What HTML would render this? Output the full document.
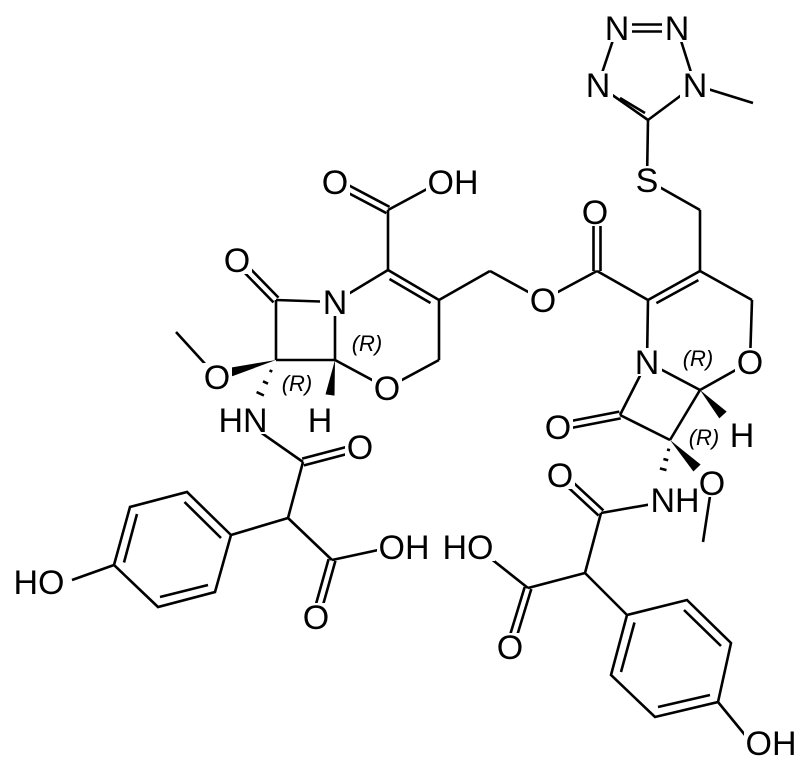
<!DOCTYPE html>
<html><head><style>html,body{margin:0;padding:0;background:#fff}</style></head><body>
<svg width="805" height="768" viewBox="0 0 805 768" xmlns="http://www.w3.org/2000/svg">
<g stroke="#000" stroke-width="2.6" fill="none" stroke-linecap="butt">
<line x1="278.5" y1="297.6" x2="239.5" y2="257.6"/><line x1="273.5" y1="302.4" x2="234.5" y2="262.4"/>
<line x1="276" y1="300" x2="335" y2="302"/>
<line x1="335" y1="302" x2="335" y2="360"/>
<line x1="335" y1="360" x2="276" y2="360"/>
<line x1="276" y1="360" x2="276" y2="300"/>
<line x1="335" y1="302" x2="388" y2="270"/>
<line x1="388" y1="270" x2="439" y2="300"/><line x1="389.5" y1="279" x2="430.5" y2="303"/>
<line x1="439" y1="300" x2="439" y2="360"/>
<line x1="439" y1="360" x2="387" y2="388"/>
<line x1="387" y1="388" x2="335" y2="360"/>
<line x1="388" y1="270" x2="388" y2="210"/>
<line x1="389.6" y1="206.9" x2="336.6" y2="178.9"/><line x1="386.4" y1="213.1" x2="333.4" y2="185.1"/>
<line x1="388" y1="210" x2="440" y2="182"/>
<line x1="439" y1="300" x2="490" y2="271"/>
<line x1="490" y1="271" x2="543" y2="300"/>
<line x1="543" y1="300" x2="597" y2="271"/>
<line x1="593.5" y1="271" x2="593.5" y2="212"/><line x1="600.5" y1="271" x2="600.5" y2="212"/>
<line x1="597" y1="271" x2="648" y2="300"/>
<line x1="648" y1="300" x2="700" y2="271"/><line x1="656.4" y1="303.1" x2="698.4" y2="280.1"/>
<line x1="700" y1="271" x2="700" y2="210"/>
<line x1="700" y1="210" x2="647" y2="180"/>
<line x1="647" y1="180" x2="648" y2="120"/>
<line x1="648" y1="120" x2="598" y2="85"/><line x1="620" y1="98" x2="645" y2="113"/>
<line x1="598" y1="85" x2="617" y2="28"/>
<line x1="630" y1="24.5" x2="664" y2="24.5"/><line x1="630" y1="31.5" x2="664" y2="31.5"/>
<line x1="677" y1="28" x2="695" y2="85"/>
<line x1="695" y1="85" x2="648" y2="120"/>
<line x1="695" y1="85" x2="753" y2="103"/>
<line x1="700" y1="271" x2="752" y2="300"/>
<line x1="752" y1="300" x2="750" y2="362"/>
<line x1="750" y1="362" x2="700" y2="390"/>
<line x1="700" y1="390" x2="647" y2="362"/>
<line x1="647" y1="362" x2="648" y2="300"/>
<line x1="647" y1="362" x2="620" y2="415"/>
<line x1="620.7" y1="418.4" x2="558.7" y2="430.4"/><line x1="619.3" y1="411.6" x2="557.3" y2="423.6"/>
<line x1="620" y1="415" x2="670" y2="440"/>
<line x1="670" y1="440" x2="700" y2="390"/>
<line x1="712" y1="483" x2="703" y2="542"/>
<line x1="675" y1="500" x2="601" y2="513"/>
<line x1="603.4" y1="510.4" x2="562.4" y2="472.4"/><line x1="598.6" y1="515.6" x2="557.6" y2="477.6"/>
<line x1="601" y1="513" x2="585" y2="573"/>
<line x1="585" y1="573" x2="528" y2="588"/>
<line x1="531.3" y1="589" x2="513.3" y2="648"/><line x1="524.7" y1="587" x2="506.7" y2="646"/>
<line x1="528" y1="588" x2="480" y2="550"/>
<line x1="585" y1="573" x2="627" y2="615"/>
<polygon points="627,615 687,600 731,643 718,702 655,717 611,675"/>
<line x1="684" y1="610" x2="721" y2="646"/><line x1="710" y1="695" x2="658" y2="707"/><line x1="621" y1="672" x2="634.5" y2="622.5"/>
<line x1="718" y1="702" x2="745" y2="735"/>
<line x1="217" y1="377" x2="176" y2="332"/>
<line x1="243" y1="420" x2="303" y2="462"/>
<line x1="303.9" y1="465.4" x2="360.9" y2="450.4"/><line x1="302.1" y1="458.6" x2="359.1" y2="443.6"/>
<line x1="303" y1="462" x2="288" y2="518"/>
<line x1="288" y1="518" x2="231" y2="535"/>
<line x1="288" y1="518" x2="332" y2="560"/>
<line x1="332" y1="560" x2="392" y2="547"/>
<line x1="335.4" y1="560.9" x2="319.4" y2="617.9"/><line x1="328.6" y1="559.1" x2="312.6" y2="616.1"/>
<polygon points="231,535 187,492 130,507 114,565 158,607 215,592"/>
<line x1="221" y1="538" x2="184.5" y2="502"/><line x1="137" y1="514" x2="124" y2="562.5"/><line x1="160" y1="597" x2="208" y2="585"/>
<line x1="114" y1="565" x2="72" y2="580"/>
<line x1="269.5" y1="370.4" x2="272.3" y2="371.6"/>
<line x1="263" y1="381.3" x2="268" y2="383.7"/>
<line x1="256.6" y1="392.1" x2="263.9" y2="395.5"/>
<line x1="667" y1="449.5" x2="670" y2="450.3"/>
<line x1="663.4" y1="459" x2="668.2" y2="460.2"/>
<line x1="659.9" y1="468.4" x2="666.5" y2="470.1"/>
</g>
<g fill="#000">
<polygon points="276,360 232.2,376.3 229.8,367.7"/>
<polygon points="335,360 334.5,395.6 325.5,394.4"/>
<polygon points="700,390 726.7,411.6 719.3,418.4"/>
<polygon points="670,440 700.6,464.5 693.4,471.5"/>
</g>
<g fill="#fff">
<rect x="222" y="246" width="30" height="28"/>
<rect x="320" y="288" width="30" height="28"/>
<rect x="202" y="363" width="30" height="28"/>
<rect x="216" y="406" width="54" height="28"/>
<rect x="306" y="406" width="28" height="28"/>
<rect x="372" y="374" width="30" height="28"/>
<rect x="320" y="168" width="30" height="28"/>
<rect x="426" y="168" width="54" height="28"/>
<rect x="345" y="433" width="30" height="28"/>
<rect x="377" y="533" width="54" height="28"/>
<rect x="441" y="533" width="54" height="28"/>
<rect x="301" y="603" width="30" height="28"/>
<rect x="12" y="568" width="54" height="28"/>
<rect x="495" y="633" width="30" height="28"/>
<rect x="545" y="461" width="30" height="28"/>
<rect x="648" y="486" width="54" height="28"/>
<rect x="697" y="469" width="30" height="28"/>
<rect x="744" y="729" width="54" height="28"/>
<rect x="543" y="413" width="30" height="28"/>
<rect x="728" y="421" width="28" height="28"/>
<rect x="632" y="348" width="30" height="28"/>
<rect x="735" y="348" width="30" height="28"/>
<rect x="528" y="286" width="30" height="28"/>
<rect x="580" y="198" width="30" height="28"/>
<rect x="633" y="166" width="28" height="28"/>
<rect x="583" y="71" width="30" height="28"/>
<rect x="680" y="71" width="30" height="28"/>
<rect x="602" y="14" width="30" height="28"/>
<rect x="662" y="14" width="30" height="28"/>
</g>
<g fill="#000" font-family="Liberation Sans, Arial, sans-serif" font-size="34" text-anchor="middle">
<text x="237" y="272">O</text><text x="335" y="314">N</text><text x="217" y="389">O</text><text x="243" y="432">HN</text><text x="320" y="432">H</text><text x="387" y="400">O</text><text x="335" y="194">O</text><text x="453" y="194">OH</text><text x="360" y="459">O</text><text x="404" y="559">OH</text><text x="468" y="559">HO</text><text x="316" y="629">O</text><text x="39" y="594">HO</text><text x="510" y="659">O</text><text x="560" y="487">O</text><text x="675" y="512">NH</text><text x="712" y="495">O</text><text x="771" y="755">OH</text><text x="558" y="439">O</text><text x="742" y="447">H</text><text x="647" y="374">N</text><text x="750" y="374">O</text><text x="543" y="312">O</text><text x="595" y="224">O</text><text x="647" y="192">S</text><text x="598" y="97">N</text><text x="695" y="97">N</text><text x="617" y="40">N</text><text x="677" y="40">N</text>
</g>
<g fill="#000" font-family="Liberation Sans, Arial, sans-serif" font-size="22" font-style="italic" text-anchor="middle">
<text x="367" y="351">(R)</text><text x="297" y="391">(R)</text><text x="698" y="366">(R)</text><text x="704" y="445">(R)</text>
</g>
</svg>
</body></html>
